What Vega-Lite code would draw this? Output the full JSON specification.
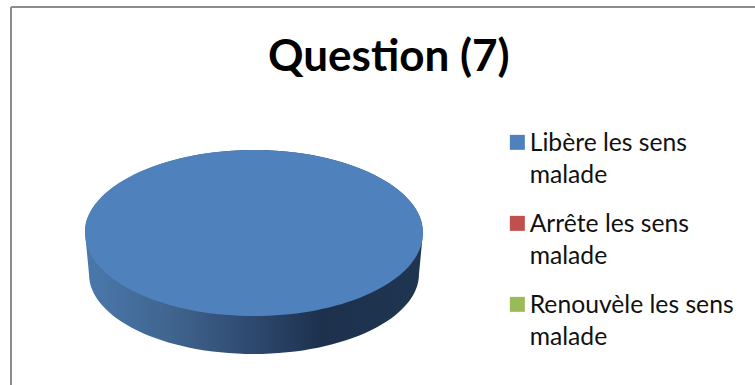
{
  "$schema": "https://vega.github.io/schema/vega-lite/v6.json",
  "width": 744,
  "height": 378,
  "autosize": "none",
  "padding": {"left": 11, "top": 7, "right": 0, "bottom": 0},
  "background": "white",
  "view": {"stroke": null, "fill": "white"},
  "title": {
    "text": "Question (7)",
    "font": "Lato",
    "fontSize": 44,
    "fontWeight": "bold",
    "color": "#000000",
    "anchor": "start",
    "dx": 257,
    "offset": -74,
    "frame": "group"
  },
  "data": {
    "values": [
      {"reponse": "Libère les sens malade", "part": 100},
      {"reponse": "Arrête les sens malade", "part": 0},
      {"reponse": "Renouvèle les sens malade", "part": 0}
    ]
  },
  "transform": [{"filter": "datum.part > 0"}],
  "layer": [
    {
      "mark": {"type": "rule", "stroke": "#8c8c8c", "strokeWidth": 2},
      "encoding": {
        "x": {"datum": 0, "type": "quantitative", "scale": {"domain": [0, 1]}, "axis": null}
      }
    },
    {
      "mark": {"type": "rule", "stroke": "#8c8c8c", "strokeWidth": 2},
      "encoding": {
        "y": {"datum": 0, "type": "quantitative", "scale": {"domain": [1, 0]}, "axis": null}
      }
    },
    {
      "mark": {
        "type": "point",
        "filled": true,
        "opacity": 1,
        "strokeWidth": 0,
        "shape": "M-169,-1 C-169,-45 -93,-83 0,-83 C93,-83 169,-45 169,-1 L165,41 C165,85 91,121 0,121 C-91,121 -165,85 -165,41 Z",
        "size": 4,
        "fill": {
          "x1": 0, "y1": 0, "x2": 1, "y2": 0,
          "gradient": "linear",
          "stops": [
            {"offset": 0, "color": "#4a78ad"},
            {"offset": 0.25, "color": "#40658f"},
            {"offset": 0.5, "color": "#2e486f"},
            {"offset": 0.7, "color": "#1d314d"},
            {"offset": 1, "color": "#1f3550"}
          ]
        }
      },
      "encoding": {
        "x": {"datum": 0.3266, "type": "quantitative", "scale": {"domain": [0, 1]}, "axis": null},
        "y": {"datum": 0.598, "type": "quantitative", "scale": {"domain": [1, 0]}, "axis": null}
      }
    },
    {
      "mark": {
        "type": "point",
        "filled": true,
        "opacity": 1,
        "strokeWidth": 0,
        "shape": "M-169,0 C-169,-46 -93,-83 0,-83 C93,-83 169,-46 169,0 C169,46 93,83 0,83 C-93,83 -169,46 -169,0 Z",
        "size": 4
      },
      "encoding": {
        "x": {"datum": 0.3266, "type": "quantitative", "scale": {"domain": [0, 1]}, "axis": null},
        "y": {"datum": 0.598, "type": "quantitative", "scale": {"domain": [1, 0]}, "axis": null},
        "color": {
          "field": "reponse",
          "type": "nominal",
          "scale": {
            "domain": ["Libère les sens malade", "Arrête les sens malade", "Renouvèle les sens malade"],
            "range": ["#4f81bd", "#c0504d", "#9bbb59"]
          },
          "legend": {
            "title": null,
            "orient": "none",
            "legendX": 494,
            "legendY": 123,
            "symbolType": "square",
            "symbolSize": 225,
            "symbolStrokeWidth": 0,
            "symbolOpacity": 1,
            "labelFont": "Lato",
            "labelFontSize": 24.7,
            "labelColor": "#111111",
            "labelLimit": 260,
            "labelOffset": 0,
            "rowPadding": 22,
            "labelBaseline": "top",
            "labelExpr": "datum.label == 'Libère les sens malade' ? ['Libère les sens', 'malade'] : datum.label == 'Arrête les sens malade' ? ['Arrête les sens', 'malade'] : ['Renouvèle les sens', 'malade']",
            "encode": {"labels": {"update": {"lineHeight": {"value": 32}, "dy": {"value": -11}}}}
          }
        }
      }
    }
  ]
}
